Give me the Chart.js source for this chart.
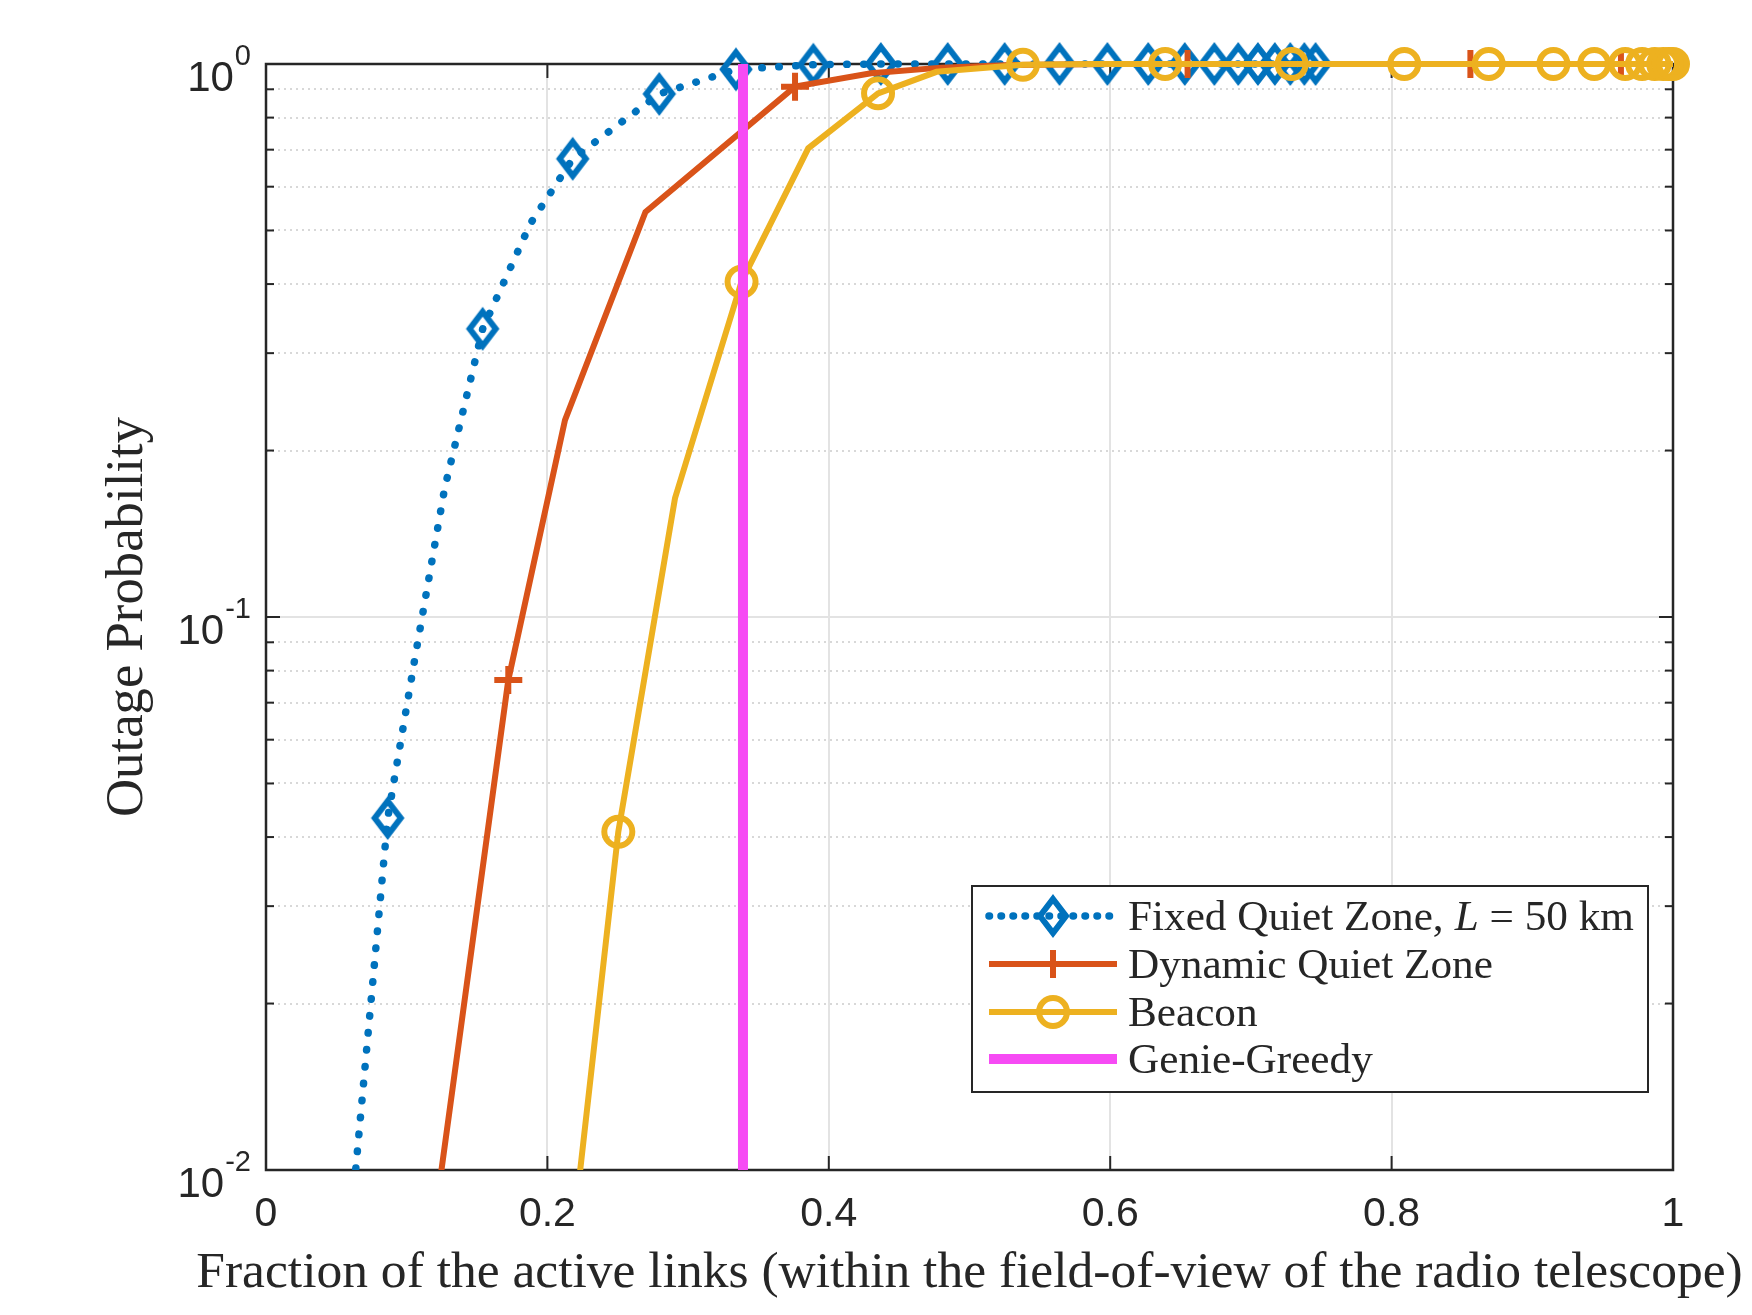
<!DOCTYPE html>
<html><head><meta charset="utf-8">
<script src="https://cdn.jsdelivr.net/npm/chart.js@4.4.1/dist/chart.umd.min.js"></script>
<style>html,body{margin:0;padding:0;background:#fff;}canvas{display:block;}</style>
</head><body>
<canvas id="c" width="1752" height="1315"></canvas>
<script>
// ---------- data ----------
const fixedX = [0.020, 0.0865, 0.106, 0.127, 0.154, 0.188, 0.218, 0.2795, 0.334, 0.389, 0.437, 0.4845, 0.525, 0.564, 0.598, 0.627, 0.653, 0.674, 0.691, 0.705, 0.717, 0.728, 0.738, 0.746];
const fixedY = [0.0006, 0.0433, 0.0847, 0.171, 0.332, 0.515, 0.674, 0.883, 0.978, 0.997, 1, 1, 1, 1, 1, 1, 1, 1, 1, 1, 1, 1, 1, 1];
const fixedMarker = [1, 1, 0, 0, 1, 0, 1, 1, 1, 1, 1, 1, 1, 1, 1, 1, 1, 1, 1, 1, 1, 1, 1, 1];

const dynX = [0.118, 0.1722, 0.2125, 0.2697, 0.376, 0.43, 0.48, 0.53, 0.60, 0.655, 0.75, 0.856, 0.93, 0.963, 1.0];
const dynY = [0.0075, 0.0769, 0.227, 0.540, 0.910, 0.962, 0.985, 0.996, 1, 1, 1, 1, 1, 1, 1];
const dynMarker = [0, 1, 0, 0, 1, 0, 0, 0, 0, 1, 0, 1, 0, 1, 0];

const beaconX = [0.21, 0.2504, 0.2907, 0.338, 0.3854, 0.435, 0.4766, 0.538, 0.59, 0.639, 0.729, 0.809, 0.869, 0.915, 0.944, 0.966, 0.978, 0.987, 0.993, 0.997, 1.0];
const beaconY = [0.005, 0.0409, 0.164, 0.404, 0.704, 0.885, 0.968, 0.997, 1, 1, 1, 1, 1, 1, 1, 1, 1, 1, 1, 1, 1];
const beaconMarker = [0, 1, 0, 1, 0, 1, 0, 1, 0, 1, 1, 1, 1, 1, 1, 1, 1, 1, 1, 1, 1];

const genieX = [0.339, 0.339];
const genieY = [0.0001, 1];

const seriesNames = ['Fixed Quiet Zone, ', 'Dynamic Quiet Zone', 'Beacon', 'Genie-Greedy'];
const xTickValues = [0, 0.2, 0.4, 0.6, 0.8, 1];
const xTickLabels = ['0', '0.2', '0.4', '0.6', '0.8', '1'];
const yTickValues = [0.01,0.02,0.03,0.04,0.05,0.06,0.07,0.08,0.09,0.1,0.2,0.3,0.4,0.5,0.6,0.7,0.8,0.9,1];
const yLabelValues = [0.01, 0.1, 1];
const yLabelExps = ['-2', '-1', '0'];
const xTitle = 'Fraction of the active links (within the field-of-view of the radio telescope)';
const yTitle = 'Outage Probability';

// ---------- style ----------
const BLUE = '#0072BD', ORANGE = '#D95319', YELLOW = '#EDB120', MAGENTA = '#F64BF4', INK = '#262626';
const CLEAR = 'rgba(0,0,0,0)';

function isMajorLog(v) { const l = Math.log10(v); return Math.abs(l - Math.round(l)) < 1e-9; }
function pts(xs, ys) { return xs.map((x, i) => ({ x: x, y: ys[i] })); }

const diamondImg = (function () {
  const w = 26, h = 34, lw = 6;
  const c = document.createElement('canvas'); c.width = 40; c.height = 50;
  const g = c.getContext('2d');
  g.strokeStyle = BLUE; g.lineWidth = lw; g.lineJoin = 'miter'; g.miterLimit = 10;
  const cx = 20, cy = 25;
  g.beginPath(); g.moveTo(cx, cy - h / 2); g.lineTo(cx + w / 2, cy); g.lineTo(cx, cy + h / 2); g.lineTo(cx - w / 2, cy); g.closePath(); g.stroke();
  return c;
})();

function fitFontSize(ctx, text, fontPrefix, family, target) {
  ctx.font = fontPrefix + '100px "' + family + '"';
  const w = ctx.measureText(text).width;
  return 100 * target / w;
}

const axesPlugin = {
  id: 'matlabAxes',
  beforeDatasetsDraw(chart) {
    const { ctx, chartArea: a, scales: { x, y } } = chart;
    ctx.save();
    ctx.strokeStyle = INK; ctx.setLineDash([]);
    ctx.lineWidth = 2;
    const line = (x0, y0, x1, y1) => { ctx.beginPath(); ctx.moveTo(x0, y0); ctx.lineTo(x1, y1); ctx.stroke(); };
    x.ticks.forEach(t => {
      const px = x.getPixelForValue(t.value);
      line(px, a.bottom, px, a.bottom - 14);
      line(px, a.top, px, a.top + 14);
    });
    y.ticks.forEach(t => {
      const py = y.getPixelForValue(t.value);
      const L = isMajorLog(t.value) ? 14 : 8;
      line(a.left, py, a.left + L, py);
      line(a.right, py, a.right - L, py);
    });
    ctx.lineWidth = 2.5;
    ctx.strokeRect(a.left, a.top, a.right - a.left, a.bottom - a.top);
    ctx.restore();
  },
  afterDraw(chart) {
    const { ctx, chartArea: a, scales: { y } } = chart;
    ctx.save();
    ctx.fillStyle = INK;
    // y tick labels 10^n
    yLabelValues.forEach((v, i) => {
      const py = y.getPixelForValue(v);
      ctx.textAlign = 'right'; ctx.textBaseline = 'alphabetic';
      ctx.font = '29px "Liberation Sans"';
      const sup = yLabelExps[i];
      const sw = ctx.measureText(sup).width;
      ctx.fillText(sup, a.left - 15, py + 1);
      ctx.font = '42px "Liberation Sans"';
      ctx.fillText('10', a.left - 15 - sw - 1, py + 27);
    });
    // x title
    let s = fitFontSize(ctx, xTitle, '', 'Liberation Serif', 1547);
    ctx.font = s + 'px "Liberation Serif"';
    ctx.textAlign = 'center'; ctx.textBaseline = 'alphabetic';
    ctx.fillText(xTitle, (a.left + a.right) / 2, 1287);
    // y title
    ctx.save();
    s = fitFontSize(ctx, yTitle, '', 'Liberation Serif', 400);
    ctx.font = s + 'px "Liberation Serif"';
    ctx.translate(142, (a.top + a.bottom) / 2);
    ctx.rotate(-Math.PI / 2);
    ctx.textAlign = 'center';
    ctx.fillText(yTitle, 0, 0);
    ctx.restore();

    // legend
    const box = { left: 972, top: 886, right: 1648, bottom: 1092 };
    ctx.fillStyle = '#ffffff';
    ctx.fillRect(box.left, box.top, box.right - box.left, box.bottom - box.top);
    ctx.strokeStyle = INK; ctx.lineWidth = 2;
    ctx.strokeRect(box.left, box.top, box.right - box.left, box.bottom - box.top);
    const rows = [916, 964, 1012, 1059];
    const sx0 = 989, sx1 = 1117, sm = 1053, tx = 1128;
    ctx.font = '100px "Liberation Serif"';
    const wA = ctx.measureText(seriesNames[0]).width;
    const wC = ctx.measureText(' = 50 km').width;
    ctx.font = 'italic 100px "Liberation Serif"';
    const wB = ctx.measureText('L').width;
    const fs = 100 * 506 / (wA + wB + wC);
    const base = r => rows[r] + 0.33 * fs;
    // row 0
    ctx.lineCap = 'round'; ctx.strokeStyle = BLUE; ctx.lineWidth = 7.5; ctx.setLineDash([0.5, 11.5]);
    ctx.beginPath(); ctx.moveTo(sx0, rows[0]); ctx.lineTo(sx1, rows[0]); ctx.stroke();
    ctx.setLineDash([]); ctx.lineCap = 'butt';
    ctx.drawImage(diamondImg, sm - diamondImg.width / 2, rows[0] - diamondImg.height / 2);
    // row 1
    ctx.strokeStyle = ORANGE; ctx.lineWidth = 6;
    ctx.beginPath(); ctx.moveTo(sx0, rows[1]); ctx.lineTo(sx1, rows[1]); ctx.stroke();
    ctx.beginPath(); ctx.moveTo(sm, rows[1] - 14); ctx.lineTo(sm, rows[1] + 14); ctx.stroke();
    // row 2
    ctx.strokeStyle = YELLOW; ctx.lineWidth = 6;
    ctx.beginPath(); ctx.moveTo(sx0, rows[2]); ctx.lineTo(sx1, rows[2]); ctx.stroke();
    ctx.beginPath(); ctx.arc(sm, rows[2], 14, 0, Math.PI * 2); ctx.stroke();
    // row 3
    ctx.strokeStyle = MAGENTA; ctx.lineWidth = 10;
    ctx.beginPath(); ctx.moveTo(sx0, rows[3]); ctx.lineTo(sx1, rows[3]); ctx.stroke();
    // texts
    ctx.fillStyle = INK; ctx.textAlign = 'left'; ctx.textBaseline = 'alphabetic';
    ctx.font = fs + 'px "Liberation Serif"';
    ctx.fillText(seriesNames[0], tx, base(0));
    ctx.font = 'italic ' + fs + 'px "Liberation Serif"';
    ctx.fillText('L', tx + wA * fs / 100, base(0));
    ctx.font = fs + 'px "Liberation Serif"';
    ctx.fillText(' = 50 km', tx + (wA + wB) * fs / 100, base(0));
    for (let r = 1; r < 4; r++) ctx.fillText(seriesNames[r], tx, base(r));
    ctx.restore();
  }
};

const clipOpt = { left: 10, top: 30, right: 30, bottom: 0 };

new Chart(document.getElementById('c'), {
  type: 'line',
  data: {
    datasets: [
      {
        label: 'Fixed Quiet Zone, L = 50 km', data: pts(fixedX, fixedY), order: 4, clip: clipOpt,
        borderColor: BLUE, borderWidth: 7.5, borderDash: [0.5, 16.5], borderCapStyle: 'round', tension: 0, fill: false,
        pointStyle: diamondImg, pointRadius: fixedMarker.map(m => m ? 12 : 0), pointHoverRadius: 0
      },
      {
        label: seriesNames[1], data: pts(dynX, dynY), order: 3, clip: clipOpt,
        borderColor: ORANGE, borderWidth: 6, tension: 0, fill: false,
        pointStyle: 'cross', pointRadius: dynMarker.map(m => m ? 14 : 0), pointBorderWidth: 6,
        pointBorderColor: ORANGE, pointBackgroundColor: CLEAR, pointHoverRadius: 0
      },
      {
        label: seriesNames[2], data: pts(beaconX, beaconY), order: 2, clip: clipOpt,
        borderColor: YELLOW, borderWidth: 6, tension: 0, fill: false,
        pointStyle: 'circle', pointRadius: beaconMarker.map(m => m ? 14 : 0), pointBorderWidth: 6,
        pointBorderColor: YELLOW, pointBackgroundColor: CLEAR, pointHoverRadius: 0
      },
      {
        label: seriesNames[3], data: pts(genieX, genieY), order: 1, clip: clipOpt,
        borderColor: MAGENTA, borderWidth: 10, borderCapStyle: 'butt', tension: 0, fill: false,
        pointRadius: 0, pointHoverRadius: 0
      }
    ]
  },
  options: {
    responsive: false, animation: false, devicePixelRatio: 1, events: [],
    layout: { padding: { top: 64, right: 79, left: 0, bottom: 0 } },
    plugins: { legend: { display: false }, tooltip: { enabled: false } },
    scales: {
      x: {
        type: 'linear', min: 0, max: 1,
        afterFit: s => { s.height = 145; },
        afterBuildTicks: s => { s.ticks = xTickValues.map(v => ({ value: v })); },
        ticks: {
          autoSkip: false, maxRotation: 0, padding: 20, color: INK,
          font: { family: 'Liberation Sans', size: 41 },
          callback: (v, i) => xTickLabels[i]
        },
        grid: {
          drawTicks: false, lineWidth: 2,
          color: c => (c.tick && (c.tick.value === 0 || c.tick.value === 1)) ? CLEAR : '#e3e3e3'
        },
        border: { display: false }
      },
      y: {
        type: 'logarithmic', min: 0.01, max: 1,
        afterFit: s => { s.width = 266; },
        afterBuildTicks: s => { s.ticks = yTickValues.map(v => ({ value: v })); },
        ticks: { display: false, autoSkip: false },
        grid: {
          drawTicks: false, lineWidth: 2,
          color: c => {
            const v = c.tick ? c.tick.value : 0;
            if (v === 0.01 || v === 1) return CLEAR;
            return isMajorLog(v) ? '#e3e3e3' : '#d8d8d8';
          }
        },
        border: { display: false, dash: c => (c.tick && !isMajorLog(c.tick.value)) ? [2, 4] : [] }
      }
    }
  },
  plugins: [axesPlugin]
});
</script>
</body></html>
